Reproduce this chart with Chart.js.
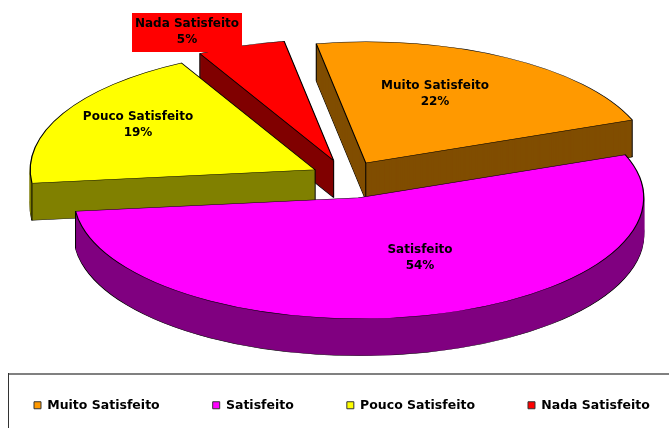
<!DOCTYPE html>
<html><head><meta charset="utf-8">
<style>html,body{margin:0;padding:0;background:#fff}#w{width:669px;height:428px;position:relative}</style>
<script src="https://cdn.jsdelivr.net/npm/chart.js@4"></script>
</head><body><div id="w"><canvas id="c" width="669" height="428"></canvas></div>
<script>
const categories = ["Muito Satisfeito", "Satisfeito", "Pouco Satisfeito", "Nada Satisfeito"];
const shares = [22, 54, 19, 5];
const faceColors = ["#FF9900", "#FF00FF", "#FFFF00", "#FF0000"];
const wallColors = ["#804D00", "#800080", "#808000", "#800000"];
const explode = [38, 50, 36, 41];
const drawOrder = [3, 2, 0, 1];
const labelAnchors = [[435, 86], [420, 250], [138, 117], [187, 24]];
const FONT = 'bold 12px "DejaVu Sans"';
const CX = 347, CY = 177, TILT = 0.425, DEPTH = 37, LEGEND_GAP = 53;

const pie3d = {
  id: 'pie3d',
  beforeDraw(chart) {
    const c = chart.ctx;
    c.save();
    c.fillStyle = '#808080'; c.fillRect(8, 373, 661, 2);
    c.fillStyle = '#333333'; c.fillRect(8, 373, 1, 55);
    c.restore();
    const lg = chart.legend;
    lg.maxWidth = 2000; lg.fit();
    lg.left = 34 - LEGEND_GAP; lg.right = 2000; lg.top = 399 - LEGEND_GAP; lg.bottom = 428;
  },
  beforeDatasetsDraw(chart) {
    const c = chart.ctx, arcs = chart.getDatasetMeta(0).data;
    for (const i of drawOrder) {
      const a = arcs[i], mid = (a.startAngle + a.endAngle) / 2;
      const dx = Math.cos(mid) * explode[i], dy = Math.sin(mid) * explode[i] * TILT;
      const put = (layer, opts) => {
        const o = a.options;
        a.options = Object.assign(Object.create(o), opts);
        c.save();
        c.translate(CX + dx, CY + dy + layer);
        c.scale(1, TILT);
        c.translate(-a.x, -a.y);
        a.draw(c);
        c.restore();
        a.options = o;
      };
      put(DEPTH, {backgroundColor: wallColors[i], borderColor: '#000', borderWidth: 1.2});
      for (let l = DEPTH - 1; l > 0; l--) put(l, {backgroundColor: wallColors[i], borderColor: wallColors[i], borderWidth: 1});
      c.save();
      c.strokeStyle = '#000'; c.lineWidth = 1;
      c.beginPath();
      for (const p of [[0, 0], [Math.cos(a.startAngle) * a.outerRadius, Math.sin(a.startAngle) * a.outerRadius * TILT], [Math.cos(a.endAngle) * a.outerRadius, Math.sin(a.endAngle) * a.outerRadius * TILT]]) {
        c.moveTo(CX + dx + p[0], CY + dy + p[1]);
        c.lineTo(CX + dx + p[0], CY + dy + p[1] + DEPTH);
      }
      c.stroke();
      c.restore();
      put(0, {backgroundColor: faceColors[i], borderColor: '#000', borderWidth: 1.2});
    }
    const total = shares.reduce((s, v) => s + v, 0);
    c.save();
    c.font = FONT; c.textAlign = 'center'; c.textBaseline = 'middle';
    c.fillStyle = '#FF0000'; c.fillRect(132, 13, 110, 39);
    c.fillStyle = '#000';
    categories.forEach((n, i) => {
      const [x, y] = labelAnchors[i];
      c.fillText(n, x, y);
      c.fillText(Math.round(shares[i] / total * 100) + '%', x, y + 15.5);
    });
    c.restore();
    return false;
  }
};

new Chart(document.getElementById('c'), {
  type: 'pie',
  data: { labels: categories, datasets: [{ data: shares, backgroundColor: faceColors, borderColor: '#333', borderWidth: 1, hoverOffset: 0 }] },
  options: {
    responsive: false, animation: false, radius: 285, rotation: -10,
    layout: { padding: 0 },
    plugins: {
      tooltip: { enabled: false },
      legend: { position: 'bottom', align: 'start',
        labels: { boxWidth: 7, boxHeight: 7, padding: LEGEND_GAP, color: '#000', font: { family: '"DejaVu Sans"', size: 12.5, weight: 'bold' } } }
    }
  },
  plugins: [pie3d]
});
</script></body></html>
